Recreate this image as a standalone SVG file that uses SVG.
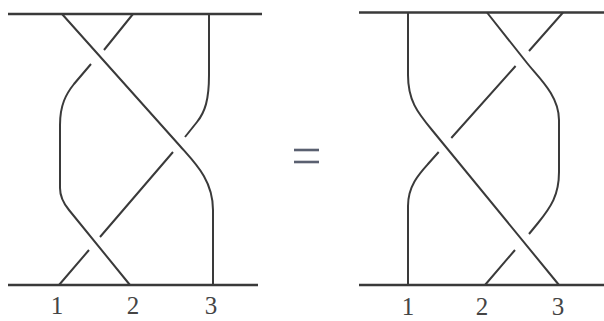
<svg xmlns="http://www.w3.org/2000/svg" width="604" height="321" viewBox="0 0 604 321">
<style>
.bar{stroke:#3a3a3a;stroke-width:2.4;fill:none}
.s{stroke:#3a3a3a;stroke-width:2;fill:none;stroke-linecap:butt}
.eq{stroke:#5a6070;stroke-width:2.6}
.lbl{font-family:"Liberation Serif","Times New Roman",serif;font-size:25px;fill:#444;text-anchor:middle}
</style>
<rect width="604" height="321" fill="#ffffff"/>
<g id="left-braid">
  <line class="bar" x1="8" y1="14" x2="262" y2="14"/>
  <line class="bar" x1="8" y1="285" x2="258" y2="285"/>
  <path class="s" d="M62,14 L180,146 C195,163 213,180 213,210 L213,285"/>
  <path class="s" d="M133,14 L104,50 M91,64 L74,84 C66,94 60,105 60,125 L60,188 C60,198 64,204 69,210 L130,285"/>
  <path class="s" d="M209,14 L209,75 C209,100 205,112 197,122 L185,137 M173,152 L100,237 M89,250 L59,285"/>
  <text class="lbl" x="57" y="314">1</text>
  <text class="lbl" x="133" y="314">2</text>
  <text class="lbl" x="211" y="314">3</text>
</g>
<g id="equals">
  <line class="eq" x1="294" y1="150" x2="319" y2="150"/>
  <line class="eq" x1="294" y1="162" x2="319" y2="162"/>
</g>
<g id="right-braid">
  <line class="bar" x1="359" y1="12.5" x2="604" y2="12.5"/>
  <line class="bar" x1="359" y1="285" x2="604" y2="285"/>
  <path class="s" d="M408,12.5 L408,75 C408,100 417,112 432,130 L559,285"/>
  <path class="s" d="M487,12.5 L527,63 C538,77 559,95 559,120 L559,172 C559,195 551,207 538,223 L529,234 M515,250 L485,285"/>
  <path class="s" d="M563,12.5 L529,51 M515.6,66 L451.3,138 M438.7,152 L428,164 C419,174 408,186 408,206 L408,285"/>
  <text class="lbl" x="408" y="315">1</text>
  <text class="lbl" x="482" y="315">2</text>
  <text class="lbl" x="558" y="315">3</text>
</g>
</svg>
